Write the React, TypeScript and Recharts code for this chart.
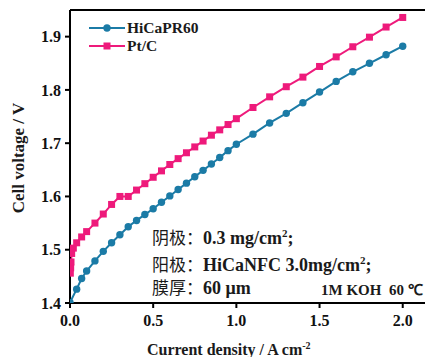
import React from 'react';
import { LineChart, Line, XAxis, YAxis, ReferenceLine } from 'recharts';

// HiCaPR60 polarization curve (current density A/cm2, cell voltage V)
const hiJ = [0, 0.04, 0.07, 0.1, 0.15, 0.2, 0.25, 0.3, 0.35, 0.4, 0.45, 0.5, 0.55, 0.6, 0.65, 0.7, 0.75, 0.8, 0.85, 0.9, 0.95, 1.0, 1.1, 1.2, 1.3, 1.4, 1.5, 1.6, 1.7, 1.8, 1.9, 2.0];
const hiV = [1.401, 1.426, 1.446, 1.460, 1.479, 1.497, 1.513, 1.528, 1.543, 1.555, 1.566, 1.577, 1.589, 1.601, 1.613, 1.625, 1.637, 1.649, 1.661, 1.673, 1.686, 1.698, 1.717, 1.738, 1.756, 1.776, 1.796, 1.816, 1.834, 1.850, 1.866, 1.882];

// Pt/C polarization curve
const ptJ = [0.002, 0.004, 0.006, 0.01, 0.02, 0.04, 0.07, 0.1, 0.15, 0.2, 0.25, 0.3, 0.35, 0.4, 0.45, 0.5, 0.55, 0.6, 0.65, 0.7, 0.75, 0.8, 0.85, 0.9, 0.95, 1.0, 1.1, 1.2, 1.3, 1.4, 1.5, 1.6, 1.7, 1.8, 1.9, 2.0];
const ptV = [1.456, 1.466, 1.477, 1.493, 1.503, 1.513, 1.524, 1.534, 1.550, 1.567, 1.585, 1.600, 1.600, 1.612, 1.624, 1.636, 1.648, 1.660, 1.671, 1.682, 1.693, 1.704, 1.715, 1.725, 1.735, 1.746, 1.767, 1.787, 1.806, 1.824, 1.844, 1.862, 1.881, 1.899, 1.918, 1.936];

const xTicks = [0, 0.5, 1.0, 1.5, 2.0];
const yTicks = [1.4, 1.5, 1.6, 1.7, 1.8, 1.9];

const BLUE = '#1b7ba6';
const PINK = '#ee1a7b';
const SERIF = '"Liberation Serif", "Times New Roman", serif';
const CJK = '"Noto Sans CJK SC", sans-serif';

const hiData = hiJ.map((j, i) => ({ j, v: hiV[i] }));
const ptData = ptJ.map((j, i) => ({ j, v: ptV[i] }));

const tickStyle = { fill: '#111', fontSize: 16, fontWeight: 'bold', fontFamily: SERIF };

const SquareDot = (props: any) => {
  const { cx, cy, index } = props;
  if (cx == null || cy == null) return <g key={`sq-${index}`} />;
  return <rect key={`sq-${index}`} x={cx - 3.5} y={cy - 3.5} width={7} height={7} fill={PINK} />;
};

const txt: React.CSSProperties = {
  position: 'absolute',
  fontFamily: SERIF,
  fontWeight: 'bold',
  fontSize: 18,
  color: '#1a1a1a',
  whiteSpace: 'nowrap',
  lineHeight: '20px',
};
const cn: React.CSSProperties = { fontFamily: CJK, fontWeight: 'normal', fontSize: 17 };
const sup: React.CSSProperties = { fontSize: 11, verticalAlign: 7 };

export default function App() {
  return (
    <div style={{ position: 'relative', width: 440, height: 349 }}>
      <LineChart width={440} height={349} margin={{ top: 2, right: 12, left: 0, bottom: 0 }}>
        <XAxis
          type="number"
          dataKey="j"
          domain={[0, 2.2]}
          ticks={xTicks}
          allowDataOverflow
          tickFormatter={(v: number) => v.toFixed(1)}
          axisLine={{ stroke: '#000', strokeWidth: 2 }}
          tickLine={{ stroke: '#000', strokeWidth: 2 }}
          tickSize={5}
          tickMargin={7}
          height={54}
          tick={tickStyle}
        />
        <YAxis
          type="number"
          domain={[1.4, 1.95]}
          ticks={yTicks}
          allowDataOverflow
          tickFormatter={(v: number) => v.toFixed(1)}
          axisLine={{ stroke: '#000', strokeWidth: 2 }}
          tickLine={{ stroke: '#000', strokeWidth: 2 }}
          tickSize={5}
          tickMargin={4}
          width={62}
          tick={tickStyle}
        />
        <ReferenceLine y={1.95} stroke="#000" strokeWidth={2} />
        <Line
          data={hiData}
          dataKey="v"
          name="HiCaPR60"
          stroke={BLUE}
          strokeWidth={2}
          dot={{ r: 3.7, fill: BLUE, stroke: BLUE, strokeWidth: 0 }}
          isAnimationActive={false}
        />
        <Line
          data={ptData}
          dataKey="v"
          name="Pt/C"
          stroke={PINK}
          strokeWidth={2}
          dot={SquareDot}
          isAnimationActive={false}
        />
      </LineChart>

      {/* legend */}
      <div style={{ position: 'absolute', left: 81, top: 11 }}>
        <div style={{ display: 'flex', alignItems: 'center', height: 18 }}>
          <svg width={38} height={18}>
            <line x1={0} y1={9} x2={36} y2={9} stroke={BLUE} strokeWidth={2} />
            <circle cx={18} cy={9} r={3.7} fill={BLUE} />
          </svg>
          <span style={{ ...txt, position: 'static', fontSize: 15.5 }}>HiCaPR60</span>
        </div>
        <div style={{ display: 'flex', alignItems: 'center', height: 18 }}>
          <svg width={38} height={18}>
            <line x1={0} y1={9} x2={36} y2={9} stroke={PINK} strokeWidth={2} />
            <rect x={14.5} y={5.5} width={7} height={7} fill={PINK} />
          </svg>
          <span style={{ ...txt, position: 'static', fontSize: 15.5 }}>Pt/C</span>
        </div>
      </div>

      {/* annotations */}
      <div style={{ ...txt, left: 144, top: 215 }}>
        <span style={cn}>阴极：</span>0.3 mg/cm<sup style={sup}>2</sup>;
      </div>
      <div style={{ ...txt, left: 144, top: 242 }}>
        <span style={cn}>阳极：</span>HiCaNFC 3.0mg/cm<sup style={sup}>2</sup>;
      </div>
      <div style={{ ...txt, left: 144, top: 269 }}>
        <span style={cn}>膜厚：</span>60 μm
      </div>
      <div style={{ ...txt, left: 313, top: 272, fontSize: 15 }}>1M KOH&nbsp;&nbsp;60 ℃</div>

      {/* axis titles */}
      <div style={{ ...txt, left: 139, top: 328, fontSize: 16 }}>
        Current density / A cm<sup style={{ fontSize: 10, verticalAlign: 6 }}>-2</sup>
      </div>
      <div
        style={{
          ...txt,
          fontSize: 17,
          left: 11,
          top: 150,
          transform: 'translate(-50%, -50%) rotate(-90deg)',
        }}
      >
        Cell voltage / V
      </div>
    </div>
  );
}
